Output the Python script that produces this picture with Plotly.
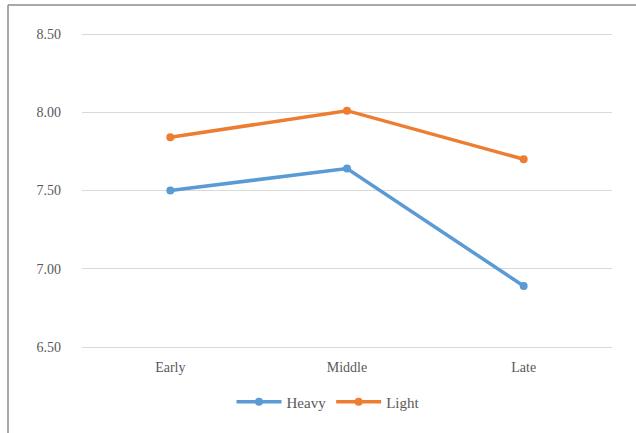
import plotly.graph_objects as go

# Stage categories and mean scores per group
stages = ["Early", "Middle", "Late"]
heavy = [7.50, 7.64, 6.89]
light = [7.84, 8.01, 7.70]
y_ticks = [6.5, 7.0, 7.5, 8.0, 8.5]
y_tick_labels = ["6.50", "7.00", "7.50", "8.00", "8.50"]

W, H = 636, 433
# gridline 8.50 at y=34, 6.50 at y=347; keep 4px of slack above and below
PAD_PX = 4
ML, MR, MT, MB = 82, 24, 34 - PAD_PX, 433 - 347 - PAD_PX
pw, ph = W - ML - MR, H - MT - MB
px_per_unit = (347 - 34) / 2.0
pad = PAD_PX / px_per_unit

font = dict(family="Liberation Serif", size=14, color="#595959")

fig = go.Figure()
fig.add_trace(go.Scatter(x=stages, y=heavy, name="Heavy", mode="lines+markers",
                         line=dict(color="#5B9BD5", width=3.5),
                         marker=dict(size=8, color="#5B9BD5")))
fig.add_trace(go.Scatter(x=stages, y=light, name="Light", mode="lines+markers",
                         line=dict(color="#ED7D31", width=3.5),
                         marker=dict(size=8, color="#ED7D31")))

# outer frame (left and top edges)
bx = (8 - ML) / pw
by = 1 + (MT - 5) / ph
frame = dict(color="#8c8c8c", width=1.5)
fig.add_shape(type="line", xref="paper", yref="paper", x0=bx, x1=bx, y0=-1, y1=by, line=frame)
fig.add_shape(type="line", xref="paper", yref="paper", x0=bx, x1=2, y0=by, y1=by, line=frame)

fig.update_layout(
    width=W, height=H,
    margin=dict(l=ML, r=MR, t=MT, b=MB),
    paper_bgcolor="white", plot_bgcolor="white",
    font=font,
    showlegend=True,
    legend=dict(orientation="h", x=(328 - ML) / pw, xanchor="center",
                y=-(402 - (MT + ph)) / ph, yanchor="middle",
                font=dict(family="Liberation Serif", size=15, color="#595959"),
                itemwidth=45, tracegroupgap=0),
    xaxis=dict(type="category", range=[-0.5, 2.5], showgrid=False, showline=False,
               zeroline=False, ticks="", ticklabelstandoff=6, tickfont=font),
    yaxis=dict(range=[6.5 - pad, 8.5 + pad], tickvals=y_ticks, ticktext=y_tick_labels,
               showgrid=True, gridcolor="#d9d9d9", gridwidth=1, showline=False,
               zeroline=False, ticks="", ticklabelstandoff=20, tickfont=font),
)

fig.write_html("out.html")
